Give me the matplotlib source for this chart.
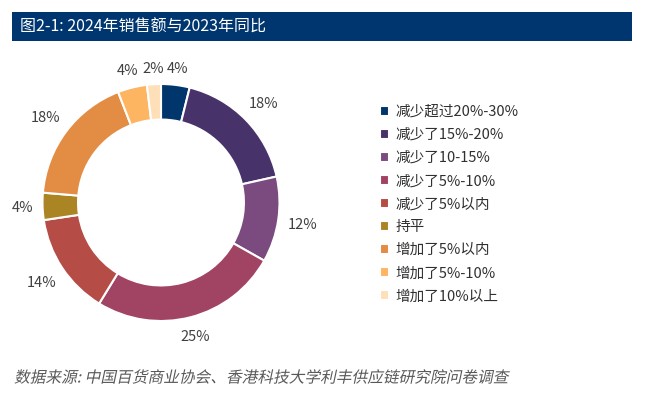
import numpy as np
import matplotlib.pyplot as plt
from matplotlib.patches import Rectangle
from matplotlib.patheffects import AbstractPathEffect
from matplotlib.transforms import Affine2D

plt.rcParams['font.family'] = ['Noto Sans CJK SC', 'DejaVu Sans']

categories = ['减少超过20%-30%', '减少了15%-20%', '减少了10-15%', '减少了5%-10%',
              '减少了5%以内', '持平', '增加了5%以内', '增加了5%-10%', '增加了10%以上']
shares = [3.9, 17.6, 11.7, 25.6, 13.9, 3.7, 17.8, 4.0, 1.9]
pct_labels = ['4%', '18%', '12%', '25%', '14%', '4%', '18%', '4%', '2%']
colors = ['#00366C', '#47336A', '#7B4B80', '#A14464', '#B54C45',
          '#AB8424', '#E38C43', '#FDB562', '#FEDFB8']


class Oblique(AbstractPathEffect):
    # fake italic: CJK font has no italic face
    def draw_path(self, renderer, gc, tpath, affine, rgbFace=None):
        m = affine.get_matrix()
        tx, ty = m[0, 2], m[1, 2]
        skew = Affine2D().translate(-tx, -ty).skew_deg(12, 0).translate(tx, ty)
        renderer.draw_path(gc, tpath, affine + skew, rgbFace)


W, H = 645, 396
fig = plt.figure(figsize=(W / 100, H / 100), dpi=100)

# title bar
bar = fig.add_axes([12 / W, 1 - 41 / H, 620 / W, 29 / H])
bar.set_axis_off()
bar.add_patch(Rectangle((0, 0), 1, 1, color='#003670', transform=bar.transAxes))
bar.text(8 / 620, 0.48, '图2-1: 2024年销售额与2023年同比', color='white', fontsize=11.5,
         va='center', ha='left', transform=bar.transAxes)

# donut
cx, cy, r = 161, 202.5, 118.5
ax = fig.add_axes([(cx - r) / W, (H - cy - r) / H, 2 * r / W, 2 * r / H])
wedges, texts = ax.pie(shares, colors=colors, startangle=90, counterclock=False,
                       labels=pct_labels, labeldistance=1.17,
                       wedgeprops=dict(width=0.30, edgecolor='white', linewidth=1.5),
                       textprops=dict(fontsize=10.5, color='#404040'))
ax.set_xlim(-1, 1)
ax.set_ylim(-1, 1)
ax.set_aspect('equal')

# outside-end labels: keep a fixed gap between text box and ring
renderer = fig.canvas.get_renderer()
gap, hh = 9, 7
half_cap = 0.36 * 10.5 * 100 / 72   # baseline to visual middle of digits, px
for w, t in zip(wedges, texts):
    t.set_horizontalalignment('center')
    t.set_verticalalignment('baseline')
    hw = t.get_window_extent(renderer).width / 2
    phi = np.deg2rad((w.theta1 + w.theta2) / 2)
    d = (r + gap + hw * abs(np.cos(phi)) + hh * abs(np.sin(phi))) / r
    t.set_position((d * np.cos(phi), d * np.sin(phi) - half_cap / r))

fig.legend(wedges, categories, loc='upper left', bbox_to_anchor=(380 / W, 1 - 105 / H),
           frameon=False, fontsize=10.5, handlelength=0.65, handleheight=0.65,
           handletextpad=0.4, labelspacing=0.62, borderaxespad=0, borderpad=0,
           labelcolor='#303030')

fig.text(14 / W, 1 - 378 / H, '数据来源: 中国百货商业协会、香港科技大学利丰供应链研究院问卷调查',
         fontsize=11.3, color='#595959', va='center', ha='left',
         path_effects=[Oblique()])

fig.savefig('out.png', dpi=100)
